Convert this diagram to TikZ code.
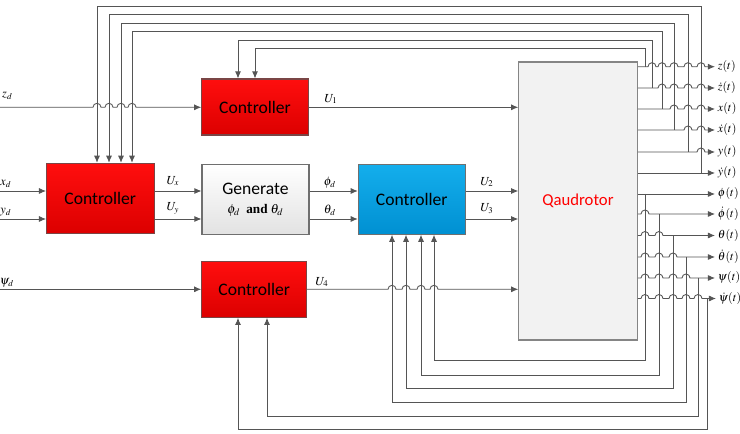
\documentclass[tikz,border=0pt]{standalone}
\usepackage{mathptmx}
\usepackage{fontspec}
\setmainfont{Carlito}
\newfontfamily\tnr{Liberation Serif}
\usetikzlibrary{arrows.meta}
\definecolor{cred}{HTML}{FF0E0E}
\definecolor{cdred}{HTML}{DC0000}
\definecolor{credge}{HTML}{7A4545}
\definecolor{cblue}{HTML}{14AEEC}
\definecolor{cdblue}{HTML}{0090D2}
\definecolor{cgen}{HTML}{E2E2E2}
\definecolor{cquad}{HTML}{F2F2F2}
\definecolor{cedge}{HTML}{6F6F6F}
\definecolor{cline}{HTML}{555555}

\begin{document}
\begin{tikzpicture}[x=0.2mm,y=0.2mm,
  blk/.style={draw=cedge,line width=0.6pt,inner sep=0pt,align=center,font=\fontsize{10}{12}\selectfont},
  ctrl/.style={blk,draw=credge,top color=cred,bottom color=cdred,minimum width=21.3mm,minimum height=11.2mm},
  ctrlb/.style={blk,top color=cblue,bottom color=cdblue,minimum width=21.4mm,minimum height=14mm},
  genbox/.style={blk,top color=white,bottom color=cgen,minimum width=21.4mm,minimum height=14mm},
  plant/.style={blk,fill=cquad,draw=cedge!85,minimum width=23.7mm,minimum height=55.6mm,
    text=red,font=\fontsize{9.5}{11}\selectfont},
  conn/.style={draw=cline,line width=0.5pt},
  arr/.style={conn,-{Latex[length=4pt,width=3.4pt]}},
  lbl/.style={inner sep=0pt,font=\fontsize{7}{8}\selectfont},
  olbl/.style={anchor=west,inner xsep=1.5pt,inner ysep=0pt,font=\fontsize{6.8}{8}\selectfont},
  hop/.style={start angle=180,end angle=0,radius=0.8mm}]
  \useasboundingbox (0,0) rectangle (740,-434);

  % ---- blocks ----
  \node[ctrl] (ctlz) at (255,-107) {Controller};
  \node[ctrl,minimum width=21.5mm,minimum height=14mm] (ctlxy) at (100.3,-198.3) {Controller};
  \node[genbox] (gen) at (255.5,-199.5) {Generate\\[-1pt]
        {\fontsize{7.5}{9}\selectfont$\phi_d$\ \ {\tnr\bfseries and}\ $\theta_d$}};
  \node[ctrlb] (ctlang) at (411.8,-199.2) {Controller};
  \node[ctrl,minimum width=21mm] (ctlpsi) at (254.2,-289.3) {Controller};
  \node[plant] (quad) at (578,-201) {Qaudrotor};

  % ---- references ----
  \coordinate (izd) at (0,-107.3);
  \coordinate (ixd) at (0,-191);
  \coordinate (iyd) at (0,-219);
  \coordinate (ipsid) at (0,-289.3);
  \node[lbl] (lzd) at (7.5,-96) {$z_d$};
  \node[lbl] (lxd) at (6,-184) {$x_d$};
  \node[lbl] (lyd) at (6,-212) {$y_d$};
  \node[lbl] (lpsid) at (7,-283) {$\psi_d$};
  \draw[arr] (izd) \foreach \h in {97,109,121,132} {-- (\h-4,-107.3) arc[hop]} -- (izd -| ctlz.west);
  \draw[arr] (ixd) -- (ixd -| ctlxy.west);
  \draw[arr] (iyd) -- (iyd -| ctlxy.west);
  \draw[arr] (ipsid) -- (ipsid -| ctlpsi.west);

  % ---- forward signals ----
  \draw[arr] (ctlxy.east |- ixd) -- (gen.west |- ixd);
  \draw[arr] (ctlxy.east |- iyd) -- (gen.west |- iyd);
  \draw[arr] (gen.east |- ixd) -- (ctlang.west |- ixd);
  \draw[arr] (gen.east |- iyd) -- (ctlang.west |- iyd);
  \draw[arr] (ctlz.east |- izd) -- (quad.west |- izd);
  \draw[arr] (ctlang.east |- ixd) -- (quad.west |- ixd);
  \draw[arr] (ctlang.east |- iyd) -- (quad.west |- iyd);
  \draw[arr] (ctlpsi.east |- ipsid) \foreach \h in {392,406,421,434} {-- (\h-4,-289.3) arc[hop]}
        -- (quad.west |- ipsid);
  \node[lbl] (lux) at (173,-181) {$U_x$};
  \node[lbl] (luy) at (173,-208) {$U_y$};
  \node[lbl] (lphid) at (330,-183) {$\phi_d$};
  \node[lbl] (lthd) at (330,-210) {$\theta_d$};
  \node[lbl] (lu1) at (331,-99) {$U_1$};
  \node[lbl] (lu2) at (487,-182) {$U_2$};
  \node[lbl] (lu3) at (487,-209) {$U_3$};
  \node[lbl] (lu4) at (322,-282) {$U_4$};

  % ---- outputs ----
  \node[olbl] (oz) at (715,-66.7) {$z(t)$};
  \node[olbl] (ozd) at (715,-88) {$\dot z(t)$};
  \node[olbl] (ox) at (715,-109) {$x(t)$};
  \node[olbl] (oxd) at (715,-130) {$\dot x(t)$};
  \node[olbl] (oy) at (715,-152) {$y(t)$};
  \node[olbl] (oyd) at (715,-173) {$\dot y(t)$};
  \node[olbl] (ophi) at (715,-194) {$\phi(t)$};
  \node[olbl] (ophid) at (715,-214) {$\dot\phi(t)$};
  \node[olbl] (oth) at (715,-235.5) {$\theta(t)$};
  \node[olbl] (othd) at (715,-257) {$\dot\theta(t)$};
  \node[olbl] (opsi) at (715,-278) {$\psi(t)$};
  \node[olbl] (opsid) at (716,-298.5) {$\dot\psi(t)$};
  \draw[arr] (quad.east |- oz.west) \foreach \h in {652,662,674,688,701} {-- (\h-4,-66.7) arc[hop]} -- (oz.west);
  \draw[arr] (quad.east |- ozd.west) \foreach \h in {662,674,688,701} {-- (\h-4,-88) arc[hop]} -- (ozd.west);
  \draw[arr] (quad.east |- ox.west) \foreach \h in {674,688,701} {-- (\h-4,-109) arc[hop]} -- (ox.west);
  \draw[arr] (quad.east |- oxd.west) \foreach \h in {688,701} {-- (\h-4,-130) arc[hop]} -- (oxd.west);
  \draw[arr] (quad.east |- oy.west) -- (697,-152) arc[hop] -- (oy.west);
  \draw[arr] (quad.east |- oyd.west) -- (oyd.west);
  \draw[arr] (quad.east |- ophi.west) -- (ophi.west);
  \draw[arr] (quad.east |- ophid.west) -- (641,-214) arc[hop] -- (ophid.west);
  \draw[arr] (quad.east |- oth.west) \foreach \h in {645,659} {-- (\h-4,-235.5) arc[hop]} -- (oth.west);
  \draw[arr] (quad.east |- othd.west) \foreach \h in {645,659,673} {-- (\h-4,-257) arc[hop]} -- (othd.west);
  \draw[arr] (quad.east |- opsi.west) \foreach \h in {645,659,673,686} {-- (\h-4,-278) arc[hop]} -- (opsi.west);
  \draw[arr] (quad.east |- opsid.west) \foreach \h in {645,659,673,686,698} {-- (\h-4,-298.5) arc[hop]} -- (opsid.west);

  % ---- taps ----
  \coordinate (tz) at (645,-66.7);
  \coordinate (tzd) at (652,-88);
  \coordinate (tx) at (662,-109);
  \coordinate (txd) at (674,-130);
  \coordinate (ty) at (688,-152);
  \coordinate (tyd) at (701,-173);
  \coordinate (tphi) at (645,-194);
  \coordinate (tphid) at (659,-214);
  \coordinate (tth) at (673,-235.5);
  \coordinate (tthd) at (686,-257);
  \coordinate (tpsi) at (698,-278);
  \coordinate (tpsid) at (707,-298.5);

  % ---- feedback over the top ----
  \coordinate (fz) at (255,-48);
  \coordinate (fzd) at (238,-40);
  \coordinate (fx) at (132,-31);
  \coordinate (fxd) at (121,-23);
  \coordinate (fy) at (109,-14);
  \coordinate (fyd) at (97,-6);
  \draw[arr] (tz) |- (fz) -- (fz |- ctlz.north);
  \draw[arr] (tzd) |- (fzd) -- (fzd |- ctlz.north);
  \draw[arr] (tx) |- (fx) -- (fx |- ctlxy.north);
  \draw[arr] (txd) |- (fxd) -- (fxd |- ctlxy.north);
  \draw[arr] (ty) |- (fy) -- (fy |- ctlxy.north);
  \draw[arr] (tyd) |- (fyd) -- (fyd |- ctlxy.north);

  % ---- feedback underneath ----
  \coordinate (fphi) at (434,-360);
  \coordinate (fphid) at (421,-375);
  \coordinate (fth) at (406,-388);
  \coordinate (fthd) at (392,-402);
  \coordinate (fpsi) at (267,-416);
  \coordinate (fpsid) at (238,-429);
  \draw[arr] (tphi) |- (fphi) -- (fphi |- ctlang.south);
  \draw[arr] (tphid) |- (fphid) -- (fphid |- ctlang.south);
  \draw[arr] (tth) |- (fth) -- (fth |- ctlang.south);
  \draw[arr] (tthd) |- (fthd) -- (fthd |- ctlang.south);
  \draw[arr] (tpsi) |- (fpsi) -- (fpsi |- ctlpsi.south);
  \draw[arr] (tpsid) |- (fpsid) -- (fpsid |- ctlpsi.south);
\end{tikzpicture}
\end{document}
